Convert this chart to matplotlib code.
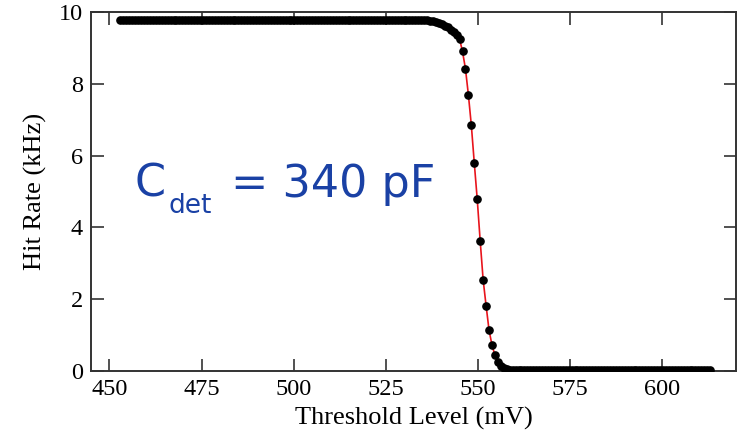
import numpy as np
import matplotlib.pyplot as plt

# threshold scan: 453 mV to 613 mV in 0.8 mV steps
threshold = np.linspace(453, 613, 201)

# hit rate in kHz at each threshold setting
hit_rate = [
    9.77, 9.77, 9.77, 9.77, 9.77, 9.77, 9.77, 9.77, 9.77, 9.77,
    9.77, 9.77, 9.77, 9.77, 9.77, 9.77, 9.77, 9.77, 9.77, 9.77,
    9.77, 9.77, 9.77, 9.77, 9.77, 9.77, 9.77, 9.77, 9.77, 9.77,
    9.77, 9.77, 9.77, 9.77, 9.77, 9.77, 9.77, 9.77, 9.77, 9.77,
    9.77, 9.77, 9.77, 9.77, 9.77, 9.77, 9.77, 9.77, 9.77, 9.77,
    9.77, 9.77, 9.77, 9.77, 9.77, 9.77, 9.77, 9.77, 9.77, 9.77,
    9.77, 9.77, 9.77, 9.77, 9.77, 9.77, 9.77, 9.77, 9.77, 9.77,
    9.77, 9.77, 9.77, 9.77, 9.77, 9.77, 9.77, 9.77, 9.77, 9.77,
    9.77, 9.77, 9.77, 9.77, 9.77, 9.77, 9.77, 9.77, 9.77, 9.77,
    9.77, 9.77, 9.77, 9.77, 9.77, 9.77, 9.77, 9.77, 9.77, 9.77,
    9.77, 9.77, 9.77, 9.77, 9.77, 9.76, 9.75, 9.73, 9.70, 9.67,
    9.62, 9.57, 9.51, 9.43, 9.35, 9.25, 8.90, 8.42, 7.69, 6.84,
    5.79, 4.78, 3.62, 2.54, 1.82, 1.14, 0.72, 0.44, 0.25, 0.15,
    0.09, 0.06, 0.04, 0.03, 0.02, 0.02, 0.02, 0.02, 0.02, 0.02,
    0.02, 0.02, 0.02, 0.02, 0.02, 0.02, 0.02, 0.02, 0.02, 0.02,
    0.02, 0.02, 0.02, 0.02, 0.02, 0.02, 0.02, 0.02, 0.02, 0.02,
    0.02, 0.02, 0.02, 0.02, 0.02, 0.02, 0.02, 0.02, 0.02, 0.02,
    0.02, 0.02, 0.02, 0.02, 0.02, 0.02, 0.02, 0.02, 0.02, 0.02,
    0.02, 0.02, 0.02, 0.02, 0.02, 0.02, 0.02, 0.02, 0.02, 0.02,
    0.02, 0.02, 0.02, 0.02, 0.02, 0.02, 0.02, 0.02, 0.02, 0.02,
    0.02,
]

xticks = [450, 475, 500, 525, 550, 575, 600]
yticks = [0, 2, 4, 6, 8, 10]

fig = plt.figure(figsize=(7.42, 4.41), dpi=100)
ax = fig.add_axes([0.1226, 0.1587, 0.8693, 0.8141])

ax.plot(threshold, hit_rate, color='#e8141c', lw=1.2, zorder=2)
ax.plot(threshold, hit_rate, 'o', color='black', ms=5.2, zorder=3)

ax.set_xlim(445, 620)
ax.set_ylim(0, 10)
ax.set_xticks(xticks)
ax.set_yticks(yticks)

serif = 'Liberation Serif'
ax.set_xticklabels([str(t) for t in xticks], family=serif, fontsize=17.5)
ax.set_yticklabels([str(t) for t in yticks], family=serif, fontsize=17.5)
ax.tick_params(direction='in', length=9, width=1.2, color='#333333',
               top=True, right=True, pad=6)
for s in ax.spines.values():
    s.set_linewidth(1.4)
    s.set_color('#333333')

ax.set_xlabel('Threshold Level (mV)', family=serif, fontsize=19, labelpad=5)
ax.set_ylabel('Hit Rate (kHz)', family=serif, fontsize=19, labelpad=8)

# detector capacitance label, subscript placed by hand
blue = '#1a41a5'
sans = 'DejaVu Sans'
ax.text(456.8, 4.85, 'C', family=sans, fontsize=32, color=blue,
        va='baseline', ha='left')
ax.text(466.0, 4.40, 'det', family=sans, fontsize=19, color=blue,
        va='baseline', ha='left')
ax.text(483.1, 4.85, '= 340 pF', family=sans, fontsize=32, color=blue,
        va='baseline', ha='left')

fig.savefig('out.png', dpi=100)
